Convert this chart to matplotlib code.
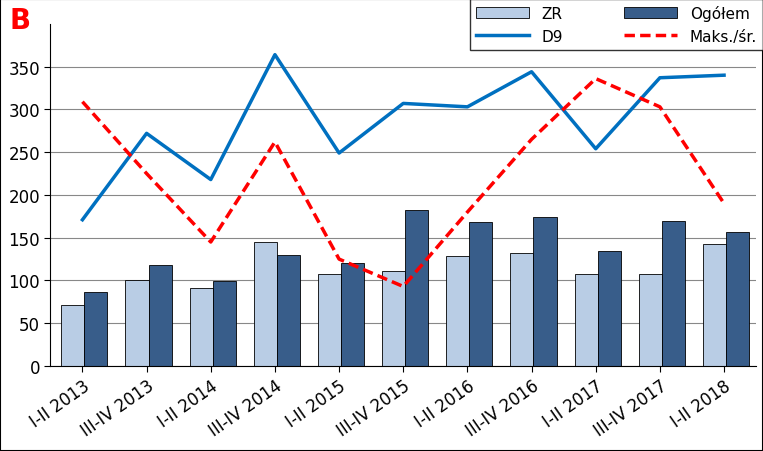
import matplotlib
matplotlib.use("Agg")
import matplotlib.pyplot as plt
import numpy as np

categories = ["I-II 2013","III-IV 2013","I-II 2014","III-IV 2014","I-II 2015","III-IV 2015",
              "I-II 2016","III-IV 2016","I-II 2017","III-IV 2017","I-II 2018"]
zr = [71, 100, 91, 145, 107, 111, 129, 132, 107, 107, 143]
ogolem = [87, 118, 99, 130, 120, 182, 168, 174, 135, 169, 157]
d9 = [171, 272, 218, 364, 249, 307, 303, 344, 254, 337, 340]
maks_sr = [309, 225, 145, 262, 125, 93, 180, 265, 336, 303, 190]
yticks = [0, 50, 100, 150, 200, 250, 300, 350]

fig = plt.figure(figsize=(7.63, 4.52), dpi=100)
ax = fig.add_axes([0.066, 0.188, 0.925, 0.757])
x = np.arange(len(categories))
w = 0.36
b1 = ax.bar(x - w/2 + 0.03, zr, w, color="#b9cde5", edgecolor="black", linewidth=0.6, label="ZR", zorder=2)
b2 = ax.bar(x + w/2 + 0.03, ogolem, w, color="#385d8a", edgecolor="black", linewidth=0.6, label="Ogółem", zorder=2)
l1, = ax.plot(x, d9, color="#0070c0", lw=2.5, label="D9", zorder=3)
l2, = ax.plot(x, maks_sr, color="#ff0000", lw=2.5, ls=(0, (3, 1.5)), label="Maks./śr.", zorder=3)
ax.set_xlim(-0.5, len(categories) - 0.5)
ax.set_ylim(0, 400)
ax.set_yticks(yticks)
ax.yaxis.grid(True, color="#888888", lw=0.8, zorder=0)
ax.set_axisbelow(True)
ax.set_xticks(x)
ax.set_xticklabels(categories, rotation=35, ha="right", rotation_mode="anchor")
ax.tick_params(labelsize=12, length=4)
for s in ["top", "right"]:
    ax.spines[s].set_visible(False)
fig.legend([b1, l1, b2, l2], ["ZR", "D9", "Ogółem", "Maks./śr."], loc="upper right",
           bbox_to_anchor=(1.0, 1.0), ncol=2, fontsize=11, frameon=True, fancybox=False,
           edgecolor="black", columnspacing=4, handlelength=3.5, borderaxespad=0)
fig.text(0.012, 0.935, "B", color="red", fontsize=20, fontweight="bold")
fig.patches.append(plt.Rectangle((0, 0), 1, 1, transform=fig.transFigure, fill=False,
                                 edgecolor="black", lw=1.5))
fig.savefig("out.png", dpi=100)
